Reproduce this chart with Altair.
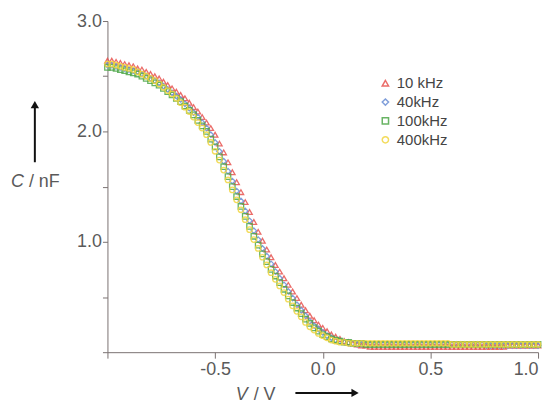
import altair as alt
import pandas as pd

# V from -1.00 to 1.00 in steps of 0.02 (101 points)
voltage = [round(-1.0 + 0.02 * i, 2) for i in range(101)]

series_names = ["10 kHz", "40kHz", "100kHz", "400kHz"]

c_10k = [2.64, 2.64, 2.63, 2.62, 2.61, 2.60, 2.59, 2.57, 2.56, 2.54,
         2.52, 2.50, 2.48, 2.45, 2.42, 2.39, 2.36, 2.33, 2.30, 2.26,
         2.22, 2.18, 2.13, 2.08, 2.03, 1.97, 1.89, 1.81, 1.72, 1.63,
         1.54, 1.45, 1.36, 1.27, 1.18, 1.09, 1.01, 0.93, 0.86, 0.79,
         0.73, 0.67, 0.61, 0.55, 0.49, 0.43, 0.38, 0.33, 0.29, 0.25,
         0.22, 0.19, 0.16, 0.14, 0.12, 0.10, 0.09, 0.08, 0.07, 0.06,
         0.06, 0.05, 0.05, 0.05, 0.05, 0.05, 0.05, 0.05, 0.05, 0.05,
         0.05, 0.05, 0.05, 0.05, 0.05, 0.05, 0.05, 0.05, 0.05, 0.05,
         0.05, 0.05, 0.05, 0.05, 0.05, 0.05, 0.05, 0.05, 0.05, 0.05,
         0.05, 0.05, 0.05, 0.06, 0.06, 0.06, 0.06, 0.06, 0.06, 0.06,
         0.06]

c_40k = [2.60, 2.60, 2.59, 2.58, 2.57, 2.56, 2.55, 2.54, 2.52, 2.50,
         2.48, 2.46, 2.44, 2.41, 2.38, 2.35, 2.32, 2.29, 2.25, 2.21,
         2.17, 2.13, 2.08, 2.03, 1.97, 1.90, 1.82, 1.73, 1.64, 1.55,
         1.46, 1.37, 1.28, 1.19, 1.10, 1.02, 0.94, 0.87, 0.80, 0.73,
         0.67, 0.61, 0.55, 0.49, 0.43, 0.38, 0.33, 0.28, 0.24, 0.21,
         0.18, 0.15, 0.13, 0.11, 0.10, 0.09, 0.08, 0.08, 0.07, 0.07,
         0.07, 0.07, 0.07, 0.07, 0.07, 0.07, 0.07, 0.07, 0.07, 0.07,
         0.07, 0.07, 0.07, 0.07, 0.07, 0.07, 0.07, 0.07, 0.07, 0.07,
         0.07, 0.07, 0.07, 0.07, 0.07, 0.07, 0.07, 0.07, 0.06, 0.06,
         0.06, 0.06, 0.06, 0.06, 0.06, 0.06, 0.06, 0.06, 0.06, 0.06,
         0.06]

c_100k = [2.58, 2.58, 2.57, 2.56, 2.55, 2.54, 2.53, 2.52, 2.50, 2.48,
          2.46, 2.44, 2.42, 2.39, 2.36, 2.33, 2.30, 2.27, 2.23, 2.19,
          2.15, 2.10, 2.05, 2.00, 1.93, 1.86, 1.77, 1.68, 1.59, 1.50,
          1.41, 1.32, 1.23, 1.14, 1.05, 0.97, 0.89, 0.82, 0.75, 0.69,
          0.63, 0.57, 0.51, 0.45, 0.40, 0.35, 0.30, 0.26, 0.22, 0.19,
          0.16, 0.14, 0.12, 0.11, 0.10, 0.09, 0.09, 0.08, 0.08, 0.08,
          0.07, 0.07, 0.07, 0.07, 0.07, 0.07, 0.07, 0.07, 0.07, 0.07,
          0.07, 0.07, 0.07, 0.07, 0.07, 0.07, 0.07, 0.07, 0.07, 0.07,
          0.07, 0.07, 0.07, 0.07, 0.07, 0.07, 0.07, 0.07, 0.07, 0.07,
          0.07, 0.07, 0.07, 0.07, 0.07, 0.07, 0.07, 0.07, 0.07, 0.07,
          0.07]

c_400k = [2.61, 2.61, 2.60, 2.59, 2.58, 2.57, 2.56, 2.54, 2.52, 2.50,
          2.48, 2.46, 2.43, 2.40, 2.37, 2.34, 2.30, 2.26, 2.22, 2.18,
          2.13, 2.08, 2.03, 1.97, 1.90, 1.82, 1.74, 1.65, 1.56, 1.47,
          1.38, 1.29, 1.20, 1.11, 1.02, 0.94, 0.86, 0.79, 0.72, 0.66,
          0.60, 0.54, 0.48, 0.42, 0.37, 0.32, 0.27, 0.23, 0.20, 0.17,
          0.15, 0.13, 0.11, 0.10, 0.09, 0.09, 0.08, 0.08, 0.08, 0.08,
          0.08, 0.08, 0.08, 0.08, 0.08, 0.08, 0.08, 0.08, 0.08, 0.08,
          0.08, 0.08, 0.08, 0.08, 0.08, 0.08, 0.08, 0.08, 0.08, 0.08,
          0.07, 0.07, 0.07, 0.07, 0.07, 0.07, 0.07, 0.07, 0.07, 0.07,
          0.07, 0.07, 0.07, 0.07, 0.07, 0.07, 0.07, 0.07, 0.07, 0.07,
          0.07]

colors = ["#e8534f", "#6b8fd4", "#4fa84a", "#f2d640"]
shapes = ["triangle-up", "diamond", "square", "circle"]

y_ticks = [0, 0.5, 1.0, 1.5, 2.0, 2.5, 3.0]
x_ticks = [-1.0, -0.5, 0.0, 0.5, 1.0]

rows = []
for k, (name, vals) in enumerate(zip(series_names, [c_10k, c_40k, c_100k, c_400k])):
    for v, c in zip(voltage, vals):
        rows.append({"V": v, "C": c, "series": name, "series_order": k})
df = pd.DataFrame(rows)

FONT = "Liberation Sans"
AXIS_COLOR = "#7a7272"
LABEL_COLOR = "#5a5a5a"

points = alt.Chart(df).mark_point(filled=False, size=30, strokeWidth=1.3, opacity=0.85).encode(
    x=alt.X("V:Q", scale=alt.Scale(domain=[-1.0, 1.0], nice=False),
            axis=alt.Axis(values=x_ticks, title=None, grid=False, domainColor=AXIS_COLOR,
                          tickColor=AXIS_COLOR, tickSize=6, labelFont=FONT, labelFontSize=18,
                          labelColor=LABEL_COLOR, labelPadding=2,
                          labelExpr="datum.value <= -1 ? '' : replace(format(datum.value, '.1f'), '\u2212', '-')")),
    y=alt.Y("C:Q", scale=alt.Scale(domain=[0, 3.0], nice=False),
            axis=alt.Axis(values=y_ticks, title=None, grid=False, domainColor=AXIS_COLOR,
                          tickColor=AXIS_COLOR, tickSize=5, labelFont=FONT, labelFontSize=18,
                          labelColor=LABEL_COLOR, labelPadding=1,
                          labelExpr="(datum.value == 1 || datum.value == 2 || datum.value == 3) ? format(datum.value, '.1f') : ''")),
    color=alt.Color("series:N", scale=alt.Scale(domain=series_names, range=colors),
                    legend=alt.Legend(title=None, orient="none", legendX=272, legendY=55,
                                      labelFont=FONT, labelFontSize=15, labelColor="#444444",
                                      symbolSize=40, symbolStrokeWidth=1.5, rowPadding=3,
                                      padding=0, labelOffset=4)),
    shape=alt.Shape("series:N", scale=alt.Scale(domain=series_names, range=shapes), legend=None),
    order=alt.Order("series_order:Q"),
)

# axis titles with italic quantity symbols
c_sym = alt.Chart(pd.DataFrame({"t": ["C"]})).mark_text(
    font=FONT, fontSize=18, fontStyle="italic", color=LABEL_COLOR, align="left", baseline="middle"
).encode(x=alt.value(-97), y=alt.value(162), text="t:N")
c_unit = alt.Chart(pd.DataFrame({"t": ["/ nF"]})).mark_text(
    font=FONT, fontSize=18, color=LABEL_COLOR, align="left", baseline="middle"
).encode(x=alt.value(-79), y=alt.value(162), text="t:N")

v_sym = alt.Chart(pd.DataFrame({"t": ["V"]})).mark_text(
    font=FONT, fontSize=18, fontStyle="italic", color=LABEL_COLOR, align="left", baseline="middle"
).encode(x=alt.value(129), y=alt.value(376), text="t:N")
v_unit = alt.Chart(pd.DataFrame({"t": ["/ V"]})).mark_text(
    font=FONT, fontSize=18, color=LABEL_COLOR, align="left", baseline="middle"
).encode(x=alt.value(147), y=alt.value(376), text="t:N")

# arrows
up_shaft = alt.Chart(pd.DataFrame({"a": [0]})).mark_rule(color="#111111", strokeWidth=2).encode(
    x=alt.value(-73), y=alt.value(142), y2=alt.value(86))
up_head = alt.Chart(pd.DataFrame({"a": [0]})).mark_point(
    shape="triangle-up", filled=True, color="#111111", size=70, opacity=1).encode(
    x=alt.value(-73), y=alt.value(84))
right_shaft = alt.Chart(pd.DataFrame({"a": [0]})).mark_rule(color="#111111", strokeWidth=2).encode(
    x=alt.value(189), x2=alt.value(246), y=alt.value(374))
right_head = alt.Chart(pd.DataFrame({"a": [0]})).mark_point(
    shape="triangle-right", filled=True, color="#111111", size=70, opacity=1).encode(
    x=alt.value(249), y=alt.value(374))

chart = alt.layer(
    points, c_sym, c_unit, v_sym, v_unit, up_shaft, up_head, right_shaft, right_head
).properties(
    width=433, height=333,
    autosize=alt.AutoSizeParams(type="none"),
    padding={"left": 100, "top": 12, "right": 8, "bottom": 51},
    background="white",
).configure_view(stroke=None)

chart.save("out.html", embed_options={"renderer": "svg", "actions": False})
